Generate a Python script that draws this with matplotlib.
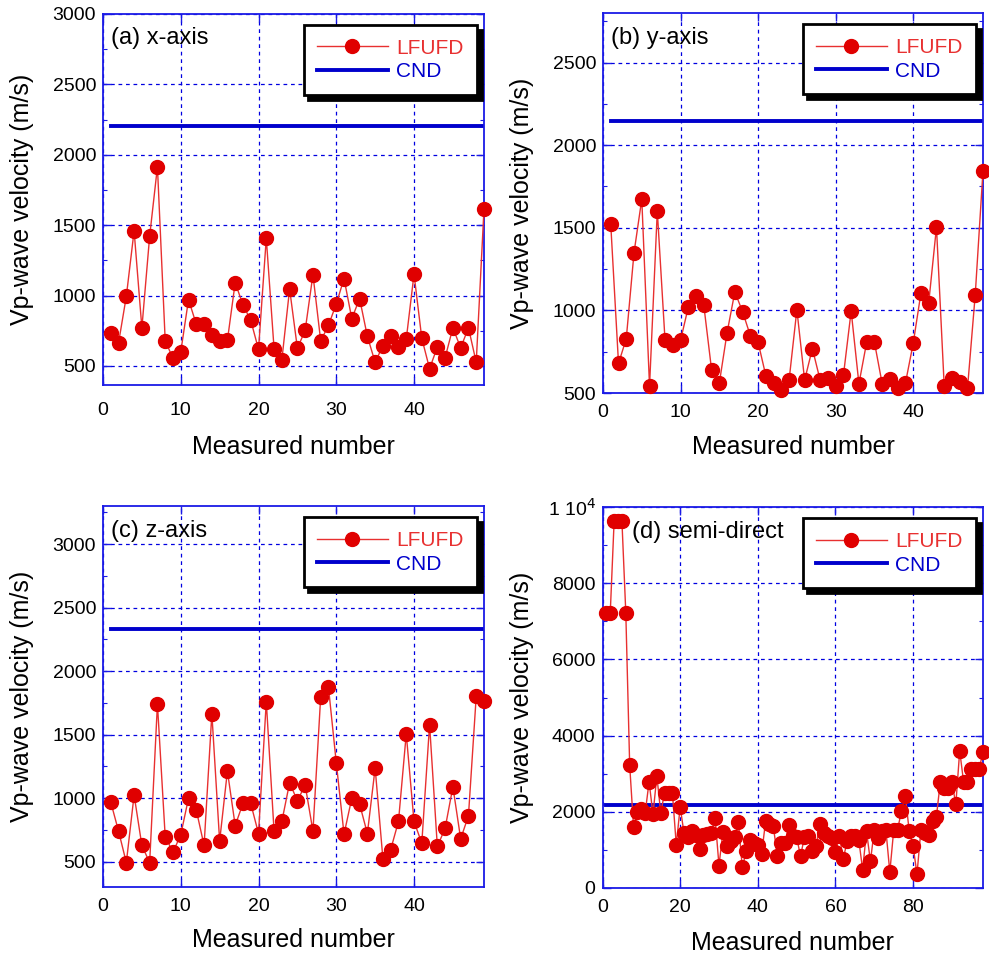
import matplotlib
matplotlib.use("Agg")
import matplotlib.pyplot as plt
import numpy as np
from matplotlib.ticker import MultipleLocator

plt.rcParams['font.family'] = ['Liberation Sans', 'DejaVu Sans']

# ---------------- data ----------------
lfufd_x = [737, 664, 995, 1460, 770, 1422, 1915, 680, 554, 600,
           972, 796, 801, 718, 678, 682, 1092, 934, 825, 618,
           1408, 623, 543, 1047, 626, 753, 1149, 678, 789, 941,
           1121, 836, 979, 711, 526, 645, 713, 635, 690, 1152,
           697, 481, 635, 559, 772, 628, 772, 526, 1614]
cnd_x = 2205

lfufd_y = [1520, 679, 829, 1349, 1673, 540, 1602, 819, 789, 819,
           1020, 1086, 1030, 641, 560, 865, 1112, 992, 847, 807,
           604, 558, 520, 580, 1004, 578, 769, 578, 590, 540,
           606, 996, 556, 807, 807, 556, 584, 532, 560, 801,
           1106, 1046, 1504, 540, 592, 564, 528, 1096, 1845]
cnd_y = 2146

lfufd_z = [968, 740, 492, 1024, 627, 492, 1742, 697, 574, 711,
           1000, 905, 627, 1665, 661, 1213, 784, 958, 958, 721,
           1760, 740, 816, 1121, 979, 1103, 740, 1800, 1871, 1279,
           716, 1000, 953, 721, 1237, 521, 595, 816, 1505, 816,
           645, 1579, 619, 763, 1089, 679, 861, 1802, 1763]
cnd_z = 2334

lfufd_d = [7230, 7230, 9640, 9640, 9640, 7230, 3225, 1600, 2000, 2080,
           1975, 2790, 1930, 2940, 1975, 2500, 2500, 2500, 1130, 2125,
           1440, 1330, 1490, 1400, 1025, 1400, 1410, 1450, 1845, 590,
           1460, 1115, 1240, 1340, 1725, 540, 960, 1270, 1180, 1120,
           900, 1750, 1680, 1620, 850, 1180, 1180, 1665, 1375, 1340,
           830, 1340, 1355, 960, 1095, 1690, 1445, 1355, 1315, 935,
           1375, 760, 1225, 1355, 1375, 1270, 480, 1490, 700, 1515,
           1315, 1490, 1515, 415, 1515, 1535, 2020, 2410, 1490, 1095,
           365, 1515, 1445, 1400, 1755, 1870, 2785, 2635, 2635, 2785,
           2195, 3600, 2785, 2785, 3115, 3115, 3115, 3575]
cnd_d = 2178

titles = ['(a) x-axis', '(b) y-axis', '(c) z-axis', '(d) semi-direct']
xlabel = 'Measured number'
ylabel = 'Vp-wave velocity (m/s)'
legend_labels = ['LFUFD', 'CND']

panels = [
    dict(vals=lfufd_x, cnd=cnd_x, title=titles[0], ylim=(365, 3000), yticks=np.arange(500, 3001, 500),
         yminor=250, xlim=(0, 49), xticks=[0, 10, 20, 30, 40],
         rect=[103, 14, 484, 385], xlab_off=62, xpad=12),
    dict(vals=lfufd_y, cnd=cnd_y, title=titles[1], ylim=(500, 2800), yticks=np.arange(500, 2501, 500),
         yminor=250, xlim=(0, 49), xticks=[0, 10, 20, 30, 40],
         rect=[603, 13, 983, 393], xlab_off=54, xpad=8),
    dict(vals=lfufd_z, cnd=cnd_z, title=titles[2], ylim=(300, 3300), yticks=np.arange(500, 3001, 500),
         yminor=250, xlim=(0, 49), xticks=[0, 10, 20, 30, 40],
         rect=[103, 506, 484, 887], xlab_off=53, xpad=8),
    dict(vals=lfufd_d, cnd=cnd_d, title=titles[3], ylim=(0, 10000), yticks=np.arange(0, 10001, 2000),
         yminor=1000, xlim=(0, 98), xticks=[0, 20, 40, 60, 80],
         rect=[602.5, 507, 983, 888], xlab_off=55, xpad=8,
         yticklabels=['0', '2000', '4000', '6000', '8000', '1 10$^4$']),
]

W, H = 989, 959
fig = plt.figure(figsize=(W / 100, H / 100), dpi=100)

SPINE = '#1a1ae6'
GRID = '#0000e0'
RED = '#e00000'
LINE_RED = '#e83030'
BLUE = '#0000cc'

for p in panels:
    l, t, r, b = p['rect']
    ax = fig.add_axes([l / W, 1 - b / H, (r - l) / W, (b - t) / H])
    n = len(p['vals'])
    xs = np.arange(1, n + 1)
    ax.plot(xs, p['vals'], '-', color=LINE_RED, lw=1.0, marker='o', ms=10,
            mfc=RED, mec=RED, label=legend_labels[0], zorder=3, clip_on=False)
    ax.plot(xs, [p['cnd']] * n, '-', color=BLUE, lw=2.8, label=legend_labels[1], zorder=2)

    ax.set_xlim(*p['xlim'])
    ax.set_ylim(*p['ylim'])
    ax.set_xticks(p['xticks'])
    ax.set_yticks(p['yticks'])
    if 'yticklabels' in p:
        ax.set_yticklabels(p['yticklabels'])
    ax.yaxis.set_minor_locator(MultipleLocator(p['yminor']))

    for s in ax.spines.values():
        s.set_color(SPINE)
        s.set_linewidth(1.3)
    ax.tick_params(axis='both', which='both', direction='in', top=True, right=True,
                   color=SPINE, labelsize=14, labelcolor='black')
    ax.tick_params(axis='both', which='major', length=6, width=1.0)
    ax.tick_params(axis='both', which='minor', length=3, width=0.8)
    ax.tick_params(axis='x', which='major', pad=p['xpad'])
    ax.tick_params(axis='y', which='major', pad=5)

    ax.grid(True, which='major', color=GRID, lw=0.9, linestyle=(0, (3, 3)))
    ax.set_axisbelow(True)

    ax.set_xlabel(xlabel, fontsize=18, va='center')
    ax.set_ylabel(ylabel, fontsize=18, va='center')
    ax.xaxis.set_label_coords(0.5, -p['xlab_off'] / (b - t))
    ax.yaxis.set_label_coords(-81 / (r - l), 0.5)

    tx = 0.02 if p['title'] != titles[3] else 0.078
    ax.text(tx, 0.935, p['title'], transform=ax.transAxes, fontsize=17,
            ha='left', va='center', color='black', zorder=5)

    leg = ax.legend(loc='upper right', bbox_to_anchor=(0.982, 0.970), fontsize=15,
                    frameon=True, fancybox=False, edgecolor='black', framealpha=1,
                    handlelength=3.4, handletextpad=0.4, borderpad=0.65,
                    labelspacing=0.22, borderaxespad=0, labelcolor='linecolor',
                    shadow={'color': 'black', 'alpha': 1, 'ox': 3.5, 'oy': -3.5})
    leg.get_frame().set_linewidth(2.0)
    leg.set_zorder(6)

fig.savefig('out.png', dpi=100)
